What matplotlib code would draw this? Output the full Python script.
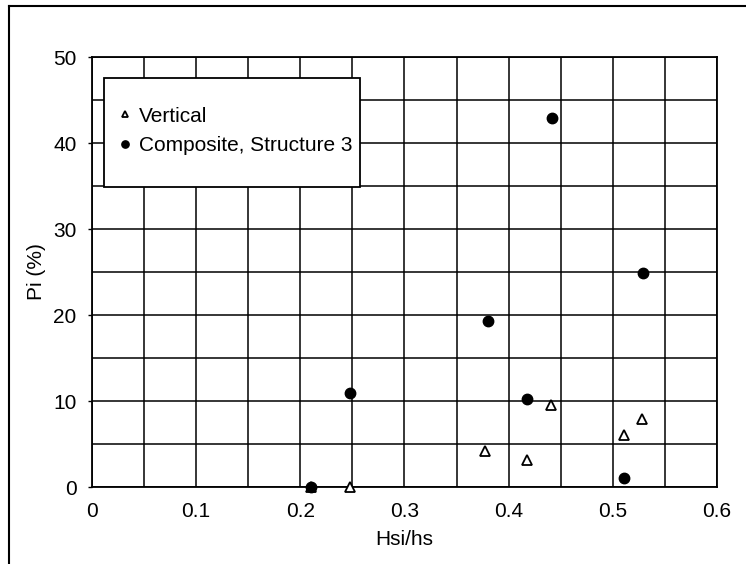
import numpy as np
import matplotlib
matplotlib.use("Agg")
import matplotlib.pyplot as plt
from matplotlib.patches import Rectangle
from matplotlib.lines import Line2D
from matplotlib.ticker import MultipleLocator

plt.rcParams['font.family'] = ['Liberation Sans', 'DejaVu Sans']

# measured points
hsi_vert = [0.21, 0.248, 0.377, 0.418, 0.441, 0.511, 0.528]
pi_vert = [0, 0, 4.2, 3.1, 9.5, 6.0, 7.9]

hsi_comp = [0.21, 0.248, 0.38, 0.418, 0.442, 0.511, 0.529]
pi_comp = [0, 10.9, 19.3, 10.2, 42.9, 1.1, 24.9]

xticks = [0, 0.1, 0.2, 0.3, 0.4, 0.5, 0.6]
xticklabels = ['0', '0.1', '0.2', '0.3', '0.4', '0.5', '0.6']
yticks = [0, 10, 20, 30, 40, 50]

fs = 15

fig = plt.figure(figsize=(7.46, 5.64), dpi=100)
ax = fig.add_axes([0.1233, 0.1365, 0.8378, 0.7624])

ax.plot(hsi_vert, pi_vert, linestyle='none', marker='^', ms=7, mfc='white',
        mec='black', mew=1.3, zorder=4, clip_on=False, label='Vertical')
ax.plot(hsi_comp, pi_comp, linestyle='none', marker='o', ms=7.5, mfc='black',
        mec='black', zorder=5, clip_on=False, label='Composite, Structure 3')

ax.set_xlim(0, 0.6)
ax.set_ylim(0, 50)
ax.set_xticks(xticks)
ax.set_xticklabels(xticklabels)
ax.set_yticks(yticks)
ax.xaxis.set_minor_locator(MultipleLocator(0.05))
ax.yaxis.set_minor_locator(MultipleLocator(5))
ax.grid(True, which='both', color='black', linewidth=1.1, zorder=1)
ax.set_axisbelow(True)
ax.tick_params(axis='x', which='both', length=0, pad=11, labelsize=fs)
ax.tick_params(axis='y', which='major', length=3, width=1, pad=8, labelsize=fs)
ax.tick_params(axis='y', which='minor', length=0)
for s in ax.spines.values():
    s.set_linewidth(1.3)

ax.set_xlabel('Hsi/hs', fontsize=fs, labelpad=6)
ax.set_ylabel('Pi (%)', fontsize=fs, labelpad=5)

# legend box
box = Rectangle((0.019, 0.698), 0.41, 0.254, transform=ax.transAxes,
                facecolor='white', edgecolor='black', linewidth=1.3, zorder=6)
ax.add_patch(box)
leg = ax.legend(loc='center left', bbox_to_anchor=(0.019, 0.828),
                frameon=False, fontsize=fs, borderaxespad=0, borderpad=0.7,
                handlelength=0.6, handletextpad=0.4, labelspacing=0.5,
                markerscale=0.7)
leg.set_zorder(7)

# page frame
fig.add_artist(Line2D([0.0127, 0.0127], [0, 0.989], color='black', linewidth=1.5))
fig.add_artist(Line2D([0.0127, 1.0], [0.989, 0.989], color='black', linewidth=1.5))

fig.savefig('out.png', dpi=100)
